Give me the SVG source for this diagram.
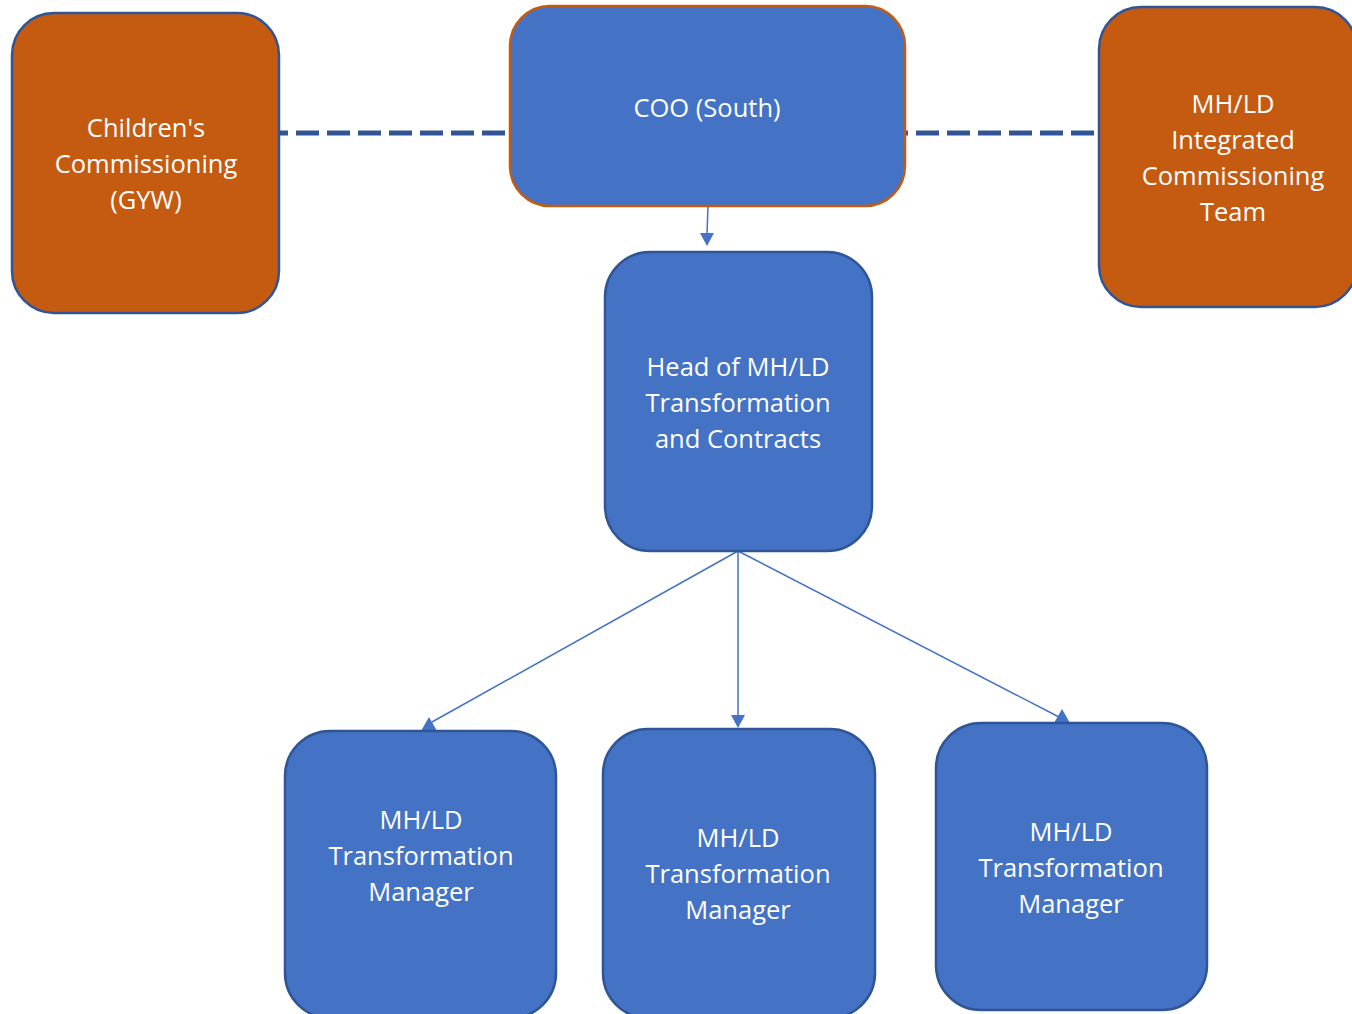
<svg xmlns="http://www.w3.org/2000/svg" width="1352" height="1014" viewBox="0 0 1352 1014">
<style>
.orange{fill:#C55A11;stroke:#2F5597;stroke-width:2.5}
.blue{fill:#4472C4;stroke:#2F5597;stroke-width:2.5}
.coo{fill:#4472C4;stroke:#C55A11;stroke-width:2.5}
.t{font-family:"Open Sans",Lato,"Liberation Sans",sans-serif;font-size:25.5px;fill:#ffffff;text-anchor:middle}
.dash{stroke:#2F5597;stroke-width:5;stroke-dasharray:23 8;fill:none}
.conn{stroke:#4472C4;stroke-width:1.5;fill:none}
.head{fill:#4472C4}
</style>
<rect width="1352" height="1014" fill="#ffffff"/>
<g id="connectors">
<line class="dash" x1="280" y1="133" x2="508" y2="133" stroke-dashoffset="15"/>
<line class="dash" x1="905" y1="133" x2="1099" y2="133" stroke-dashoffset="20"/>
<line class="conn" x1="708" y1="206" x2="707" y2="234"/>
<polygon class="head" points="700,233 714,233 707,246"/>
<line class="conn" x1="738" y1="551" x2="432" y2="722"/>
<polygon class="head" points="421,731 437,731 429,717"/>
<line class="conn" x1="738" y1="551" x2="738" y2="716"/>
<polygon class="head" points="731,715 745,715 738,728"/>
<line class="conn" x1="738" y1="551" x2="1059" y2="717"/>
<polygon class="head" points="1054,723 1070,723 1062,709"/>
</g>
<g id="childrens">
<rect class="orange" x="12" y="13" width="267" height="300" rx="42"/>
<text class="t" x="146" y="137">Children's</text>
<text class="t" x="146" y="173">Commissioning</text>
<text class="t" x="146" y="209">(GYW)</text>
</g>
<g id="coo">
<rect class="coo" x="510" y="6" width="395" height="200" rx="40"/>
<text class="t" x="707" y="117">COO (South)</text>
</g>
<g id="integrated">
<rect class="orange" x="1099" y="7" width="258" height="300" rx="42"/>
<text class="t" x="1233" y="113">MH/LD</text>
<text class="t" x="1233" y="149">Integrated</text>
<text class="t" x="1233" y="185">Commissioning</text>
<text class="t" x="1233" y="221">Team</text>
</g>
<g id="head">
<rect class="blue" x="605" y="252" width="267" height="299" rx="45"/>
<text class="t" x="738" y="376">Head of MH/LD</text>
<text class="t" x="738" y="412">Transformation</text>
<text class="t" x="738" y="448">and Contracts</text>
</g>
<g id="manager1">
<rect class="blue" x="285" y="731" width="271" height="287" rx="45"/>
<text class="t" x="421" y="829">MH/LD</text>
<text class="t" x="421" y="865">Transformation</text>
<text class="t" x="421" y="901">Manager</text>
</g>
<g id="manager2">
<rect class="blue" x="603" y="729" width="272" height="289" rx="45"/>
<text class="t" x="738" y="847">MH/LD</text>
<text class="t" x="738" y="883">Transformation</text>
<text class="t" x="738" y="919">Manager</text>
</g>
<g id="manager3">
<rect class="blue" x="936" y="723" width="271" height="287" rx="45"/>
<text class="t" x="1071" y="841">MH/LD</text>
<text class="t" x="1071" y="877">Transformation</text>
<text class="t" x="1071" y="913">Manager</text>
</g>
</svg>
